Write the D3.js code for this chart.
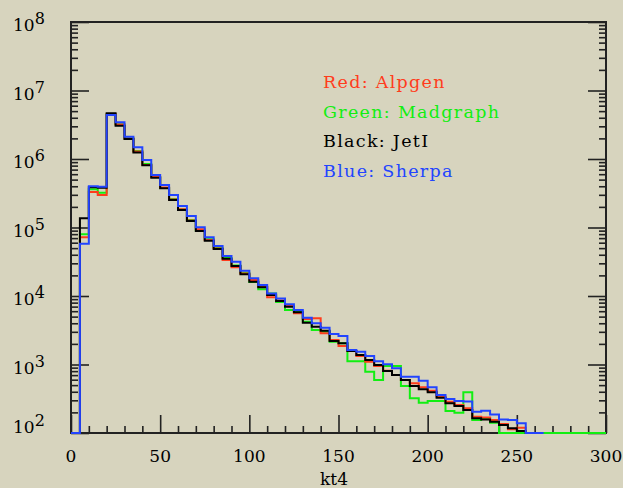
<!DOCTYPE html>
<html>
<head>
<meta charset="utf-8">
<script src="https://cdn.jsdelivr.net/npm/d3@7"></script>
<style>
body{margin:0;background:#d7d4be;}
svg{display:block;}
</style>
</head>
<body>
<div id="chart"></div>
<script>
// kt4 distributions, 5 GeV bins starting at 0
let binWidth= 5;
let alpgen= [0, 7.2e4, 3.3e5, 2.98e5, 4.54e6, 3.19e6, 1.99e6, 1.29e6, 8.17e5, 5.46e5,
  3.84e5, 2.56e5, 1.84e5, 1.27e5, 9.42e4, 6.57e4, 4.94e4, 3.35e4, 2.62e4, 2.13e4,
  1.71e4, 1.37e4, 9570, 8600, 7140, 5590, 4620, 4720, 2850, 2280,
  1860, 1570, 1330, 1100, 951, 812, 703, 594, 532, 465,
  415, 339, 286, 256, 229, 173, 169, 155, 135, 113, 119];
let madgraph= [0, 7.96e4, 3.61e5, 3.22e5, 4.54e6, 3.21e6, 2.01e6, 1.31e6, 8.45e5, 5.46e5,
  3.78e5, 2.61e5, 1.83e5, 1.29e5, 9.04e4, 6.73e4, 5.07e4, 3.59e4, 2.79e4, 2.19e4,
  1.6e4, 1.26e4, 1.09e4, 8170, 6250, 5900, 4220, 3190, 3010, 2150,
  2040, 1120, 1120, 785, 594, 951, 951, 486, 321, 277,
  293, 293, 209, 198, 393, 155, 166, 141, 0, 0,
  0, 0, 0, 0, 0, 0, 0, 0, 0, 0];
let jetI= [0, 1.36e5, 3.86e5, 3.81e5, 4.65e6, 3.06e6, 1.96e6, 1.24e6, 8.09e5, 5.33e5,
  3.74e5, 2.52e5, 1.8e5, 1.24e5, 8.89e4, 6.41e4, 4.85e4, 3.51e4, 2.74e4, 2.07e4,
  1.62e4, 1.34e4, 1.03e4, 8450, 6980, 5780, 4080, 3560, 3110, 2200,
  2040, 1570, 1380, 1160, 984, 804, 703, 594, 486, 434,
  393, 328, 271, 248, 217, 164, 158, 146, 131, 117, 107, 0];
let sherpa= [0, 5.81e4, 3.99e5, 3.95e5, 4.39e6, 3.44e6, 2.12e6, 1.48e6, 9.67e5, 5.84e5,
  4.17e5, 2.98e5, 2.06e5, 1.47e5, 1.01e5, 7.19e4, 5.37e4, 3.84e4, 3.17e4, 2.34e4,
  1.81e4, 1.45e4, 1.09e4, 9200, 7570, 6250, 4820, 3990, 3440, 2790,
  2610, 1630, 1540, 1330, 1120, 1010, 880, 664, 664, 580,
  465, 359, 314, 293, 288, 205, 212, 187, 158, 155, 139, 0, 0];

let xTicks= [0, 50, 100, 150, 200, 250, 300];
let yExponents= [2, 3, 4, 5, 6, 7, 8];
let legendLines= ["Red: Alpgen", "Green: Madgraph", "Black: JetI", "Blue: Sherpa"];

let width= 623;
let height= 488;
let padLeft= 71, padRight= 606, padTop= 22, padBottom= 433;

let x= d3.scaleLinear().domain([0,300]).range([padLeft,padRight]);
let y= d3.scaleLog().domain([1e2,1e8]).range([padBottom,padTop]);

let chart= d3.select("#chart").append("svg")
  .attr("width",width).attr("height",height);

let series= [
  {vals: madgraph, color: "#12ee12"},
  {vals: alpgen, color: "#ff3c1c"},
  {vals: jetI, color: "#000000"},
  {vals: sherpa, color: "#2244ff"}
];

let line= d3.line().x(d=>d[0]).y(d=>d[1]);

function steps(vals){
  let pts= [[x(0),padBottom]];
  vals.forEach(function(v,i){
    let yy= v>0 ? y(v) : padBottom;
    pts.push([x(i*binWidth),yy]);
    pts.push([x((i+1)*binWidth),yy]);
  });
  pts.push([x(vals.length*binWidth),padBottom]);
  return pts;
}

// frame and ticks
let minorY= [];
for(let e=2;e<8;e++){
  for(let m=2;m<10;m++){ minorY.push(m*Math.pow(10,e)); }
}
let majorY= yExponents.map(e=>Math.pow(10,e));

let axisCol= "#222";

chart.append("g").attr("transform","translate("+padLeft+",0)")
  .call(d3.axisLeft(y).tickValues(majorY).tickSize(-18).tickFormat(""));
chart.append("g").attr("transform","translate("+padLeft+",0)")
  .call(d3.axisLeft(y).tickValues(minorY).tickSize(-7).tickFormat(""));
chart.append("g").attr("transform","translate("+padRight+",0)")
  .call(d3.axisRight(y).tickValues(majorY).tickSize(-18).tickFormat(""));
chart.append("g").attr("transform","translate("+padRight+",0)")
  .call(d3.axisRight(y).tickValues(minorY).tickSize(-7).tickFormat(""));

let minorX= d3.range(10,300,10).filter(v=>v%50!==0);
chart.append("g").attr("transform","translate(0,"+padBottom+")")
  .call(d3.axisBottom(x).tickValues(xTicks).tickSize(-18).tickFormat(""));
chart.append("g").attr("transform","translate(0,"+padBottom+")")
  .call(d3.axisBottom(x).tickValues(minorX).tickSize(-7).tickFormat(""));

chart.selectAll(".domain").remove();
chart.selectAll(".tick line").attr("stroke",axisCol).attr("stroke-width",1.6);

chart.append("rect")
  .attr("x",padLeft).attr("y",padTop)
  .attr("width",padRight-padLeft).attr("height",padBottom-padTop)
  .attr("fill","none").attr("stroke",axisCol).attr("stroke-width",2);

// histograms
chart.append("g").selectAll("path")
  .data(series).enter().append("path")
  .attr("d",d=>line(steps(d.vals)))
  .attr("fill","none")
  .attr("stroke",d=>d.color)
  .attr("stroke-width",2);

// tick labels
let font= "DejaVu Serif, serif";
chart.append("g").selectAll("text")
  .data(xTicks).enter().append("text")
  .attr("x",d=>x(d)).attr("y",462)
  .attr("text-anchor","middle")
  .attr("font-family",font).attr("font-size",17)
  .attr("fill","#000")
  .text(d=>d);

let ylab= chart.append("g").selectAll("text")
  .data(yExponents).enter().append("text")
  .attr("x",13)
  .attr("y",d=> d===2 ? padBottom : y(Math.pow(10,d))+9)
  .attr("font-family",font).attr("font-size",17)
  .attr("fill","#000");
ylab.append("tspan").text("10");
ylab.append("tspan").attr("dy",-7).attr("font-size",16).text(d=>d);

chart.append("text")
  .attr("x",x(147.5)).attr("y",485)
  .attr("text-anchor","middle")
  .attr("font-family",font).attr("font-size",17)
  .attr("fill","#000")
  .text("kt4");

// legend
let legendColors= ["#ff3c1c","#12ee12","#000000","#2244ff"];
chart.append("g").selectAll("text")
  .data(legendLines).enter().append("text")
  .attr("x",323)
  .attr("y",(d,i)=>88+i*29.6)
  .attr("font-family",font).attr("font-size",17.5)
  .attr("letter-spacing",1.3)
  .attr("fill",(d,i)=>legendColors[i])
  .text(d=>d);
</script>
</body>
</html>
